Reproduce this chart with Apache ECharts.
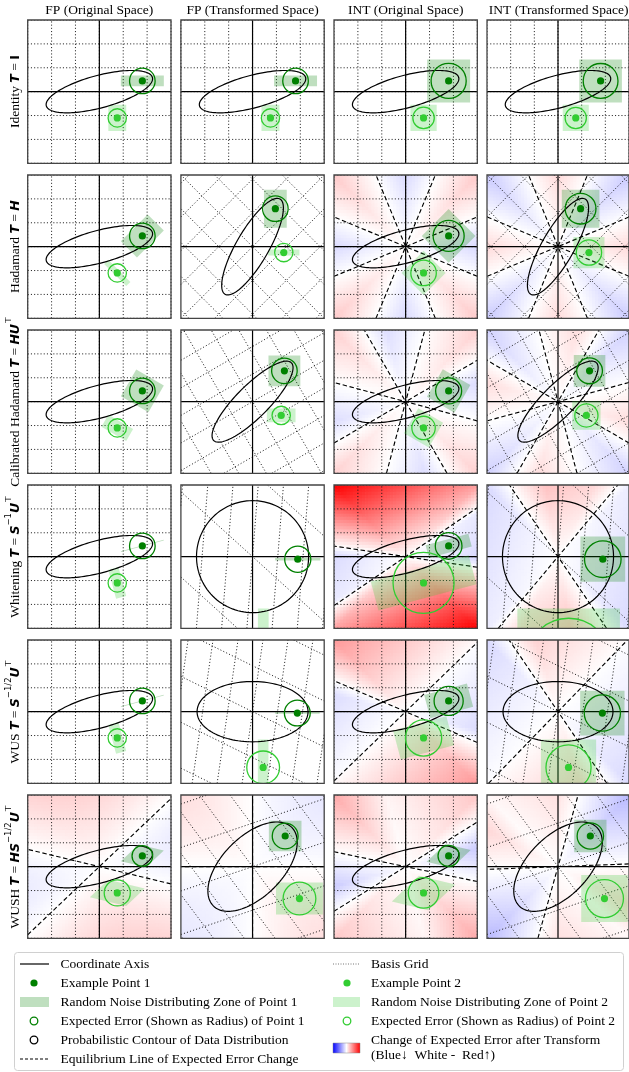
<!DOCTYPE html>
<html><head><meta charset="utf-8">
<script src="https://cdn.jsdelivr.net/npm/echarts@6/dist/echarts.min.js"></script>
<style>html,body{margin:0;padding:0;background:#fff}#c{width:629px;height:1072px}</style>
</head><body><div id="c"></div><script>
// ================= values =================
const columnTitles = ['FP (Original Space)', 'FP (Transformed Space)', 'INT (Original Space)', 'INT (Transformed Space)'];
const columnKinds = ['FP', 'FP', 'INT', 'INT'];
const columnSpaces = ['original', 'transformed', 'original', 'transformed'];
const rowMethods = ['Identity ', 'Hadamard ', 'Calibrated Hadamard ', 'Whitening ', 'WUS ', 'WUSH '];
const rowFormulas = [
  '{m|T}{t| = }{b|I}',
  '{m|T}{t| = }{m|H}',
  '{m|T}{t| = }{m|HU}{s|⊤}',
  '{m|T}{t| = }{m|S}{s|−1}{m|U}{s|⊤}',
  '{m|T}{t| = }{m|S}{s|−1/2}{m|U}{s|⊤}',
  '{m|T}{t| = }{m|HS}{s|−1/2}{m|U}{s|⊤}'
];
// transform recipe of each row (factors multiplied left to right, applied right to left)
const rowRecipes = [[], ['H'], ['H', 'Ut'], ['Sinv', 'Ut'], ['Sinvhalf', 'Ut'], ['H', 'Sinvhalf', 'Ut']];
const axisRange = [-3, 3];            // every panel shows [-3,3] x [-3,3]
const latticeSpan = 9;                // basis grid lines k = -9..9 (clipped to the panel)
const contourAxes = [2.3, 0.68];      // semi-axes of the probabilistic contour
const contourAngleDeg = 15;           // orientation of the contour (rotation U)
const varianceScales = [0.98, 0.29];  // diagonal of S
const hadamardAngleDeg = 45;          // 2x2 Hadamard shown as a 45 degree rotation
const point1 = [1.8, 0.45];           // example point 1 (original space)
const point2 = [0.75, -1.1];          // example point 2 (original space)
const colorLimit = 2.5;               // colour scale of the error change (blue -2.5 .. red +2.5)
const heatCells = 46;                 // resolution of the background colour field
const legendLeft = ['Coordinate Axis', 'Example Point 1', 'Random Noise Distributing Zone of Point 1',
  'Expected Error (Shown as Radius) of Point 1', 'Probabilistic Contour of Data Distribution', 'Equilibrium Line of Expected Error Change'];
const legendRight = ['Basis Grid', 'Example Point 2', 'Random Noise Distributing Zone of Point 2',
  'Expected Error (Shown as Radius) of Point 2', 'Change of Expected Error after Transform', '(Blue\u2193  White -  Red\u2191)'];

// ================= layout =================
const panelLeft = [27.7, 180.9, 334, 487];
const panelTop = [20, 175, 330, 485, 640, 795];
const panelSize = 143.3;
const C1 = '#008000', C2 = '#32cd32';
const Z1 = 'rgba(0,128,0,0.25)', Z2 = 'rgba(50,205,50,0.25)';
const SERIF = '"Liberation Serif","Times New Roman",serif';

// ================= linear algebra helpers =================
const rad = d => d * Math.PI / 180;
const rot = a => [[Math.cos(a), -Math.sin(a)], [Math.sin(a), Math.cos(a)]];
const mul = (A, B) => [[A[0][0]*B[0][0]+A[0][1]*B[1][0], A[0][0]*B[0][1]+A[0][1]*B[1][1]],
                       [A[1][0]*B[0][0]+A[1][1]*B[1][0], A[1][0]*B[0][1]+A[1][1]*B[1][1]]];
const app = (A, v) => [A[0][0]*v[0]+A[0][1]*v[1], A[1][0]*v[0]+A[1][1]*v[1]];
const inv = A => { const d = A[0][0]*A[1][1]-A[0][1]*A[1][0]; return [[A[1][1]/d, -A[0][1]/d], [-A[1][0]/d, A[0][0]/d]]; };
const factors = {
  H: rot(rad(hadamardAngleDeg)),
  Ut: rot(-rad(contourAngleDeg)),
  Sinv: [[1/varianceScales[0], 0], [0, 1/varianceScales[1]]],
  Sinvhalf: [[1/Math.sqrt(varianceScales[0]), 0], [0, 1/Math.sqrt(varianceScales[1])]]
};
function buildT(recipe) { let M = [[1,0],[0,1]]; recipe.forEach(f => { M = mul(M, factors[f]); }); return M; }
const SQ12 = Math.sqrt(12);
const lo = axisRange[0], hi = axisRange[1];

function clipLine(p, d) {
  let t0 = -1e9, t1 = 1e9;
  for (let k = 0; k < 2; k++) {
    if (Math.abs(d[k]) < 1e-12) { if (p[k] < lo - 1e-9 || p[k] > hi + 1e-9) return null; }
    else { let a = (lo - p[k]) / d[k], b = (hi - p[k]) / d[k]; if (a > b) { const q = a; a = b; b = q; } t0 = Math.max(t0, a); t1 = Math.min(t1, b); }
  }
  if (t0 >= t1) return null;
  return [[p[0]+t0*d[0], p[1]+t0*d[1]], [p[0]+t1*d[0], p[1]+t1*d[1]]];
}

// expected error (radius) of quantising x with transform T, measured in original space
function errorModel(T, kind) {
  const Ti = inv(T);
  const cn = [Math.hypot(Ti[0][0], Ti[1][0]), Math.hypot(Ti[0][1], Ti[1][1])];
  return function (x) {
    const y = app(T, x);
    if (kind === 'INT') { const m = Math.max(Math.abs(y[0]), Math.abs(y[1])); return m * Math.hypot(cn[0], cn[1]) / SQ12; }
    return Math.sqrt(y[0]*y[0]*cn[0]*cn[0] + y[1]*y[1]*cn[1]*cn[1]) / SQ12;
  };
}

// ================= build panels =================
const grids = [], xAxes = [], yAxes = [], series = [], heatIdx = [];
rowRecipes.forEach((recipe, r) => {
  const T = buildT(recipe), Ti = inv(T);
  columnTitles.forEach((_, c) => {
    const gi = grids.length;
    const kind = columnKinds[c], transformed = columnSpaces[c] === 'transformed';
    const M = transformed ? T : [[1,0],[0,1]];       // original -> display
    const Mi = inv(M);
    grids.push({ left: panelLeft[c], top: panelTop[r], width: panelSize, height: panelSize,
      show: true, borderColor: '#444', borderWidth: 1.3, backgroundColor: 'transparent', z: 20 });
    xAxes.push({ type: 'value', gridIndex: gi, min: lo, max: hi, show: false });
    yAxes.push({ type: 'value', gridIndex: gi, min: lo, max: hi, show: false });

    const errT = errorModel(T, kind), errI = errorModel([[1,0],[0,1]], kind);
    const delta = x => errT(x) - errI(x);
    // is there any change at all?
    let maxAbs = 0;
    for (let a = 0; a < 180; a += 3) maxAbs = Math.max(maxAbs, Math.abs(delta([Math.cos(rad(a)), Math.sin(rad(a))])));
    const colored = maxAbs > 1e-6;

    if (colored) {
      const cells = [], h = (hi - lo) / heatCells;
      for (let i = 0; i < heatCells; i++) for (let j = 0; j < heatCells; j++) {
        const px = lo + (i + 0.5) * h, py = lo + (j + 0.5) * h;
        const v = delta(app(Mi, [px, py]));
        cells.push([px, py, Math.max(-colorLimit, Math.min(colorLimit, v))]);
      }
      heatIdx.push(series.length);
      series.push({ type: 'custom', xAxisIndex: gi, yAxisIndex: gi, z: 1, silent: true, progressive: 0,
        data: cells,
        renderItem: (params, api) => {
          const a = api.coord([api.value(0) - h/2, api.value(1) + h/2]);
          const b = api.coord([api.value(0) + h/2, api.value(1) - h/2]);
          return { type: 'rect', shape: { x: a[0], y: a[1], width: b[0]-a[0]+0.7, height: b[1]-a[1]+0.7 },
                   style: { fill: api.visual('color') } };
        } });
    }

    const els = [];
    // basis grid: images of lattice lines x=k and y=k
    for (let k = -latticeSpan; k <= latticeSpan; k++) {
      [[[k, 0], [0, 1]], [[0, k], [1, 0]]].forEach(([p, d]) => {
        const seg = clipLine(app(M, p), app(M, d));
        if (seg) els.push({ kind: 'polyline', pts: seg, style: { stroke: '#111', lineWidth: 0.9, lineDash: [1.1, 2.1], fill: 'none' } });
      });
    }
    // equilibrium lines of expected error change
    if (colored) {
      const step = 0.25; let prev = delta([1, 0]);
      for (let a = step; a <= 180 + 1e-9; a += step) {
        const cur = delta([Math.cos(rad(a)), Math.sin(rad(a))]);
        if (prev === 0 || prev * cur < 0) {
          let l = a - step, u = a;
          for (let it = 0; it < 40; it++) { const m = (l+u)/2; const vm = delta([Math.cos(rad(m)), Math.sin(rad(m))]); const vl = delta([Math.cos(rad(l)), Math.sin(rad(l))]); if (vl * vm <= 0) u = m; else l = m; }
          const ang = rad((l+u)/2);
          const seg = clipLine([0, 0], app(M, [Math.cos(ang), Math.sin(ang)]));
          if (seg) els.push({ kind: 'polyline', pts: seg, style: { stroke: '#000', lineWidth: 1.15, lineDash: [4.5, 2.6], fill: 'none' } });
        }
        prev = cur;
      }
    }
    // coordinate axes
    els.push({ kind: 'polyline', pts: [[lo, 0], [hi, 0]], style: { stroke: '#000', lineWidth: 1.2, fill: 'none' } });
    els.push({ kind: 'polyline', pts: [[0, lo], [0, hi]], style: { stroke: '#000', lineWidth: 1.2, fill: 'none' } });
    // noise zones + expected error for both points
    const pts = [point1, point2], zc = [Z1, Z2], cc = [C1, C2];
    const Tcn = [Math.hypot(Ti[0][0], Ti[1][0]), Math.hypot(Ti[0][1], Ti[1][1])];
    const info = pts.map(p => {
      const y = app(T, p);
      const s = kind === 'INT' ? [Math.max(Math.abs(y[0]), Math.abs(y[1])), Math.max(Math.abs(y[0]), Math.abs(y[1]))] : [Math.abs(y[0]), Math.abs(y[1])];
      const corners = [[-1,-1],[1,-1],[1,1],[-1,1]].map(([a, b]) => [y[0] + a*s[0]/2, y[1] + b*s[1]/2]);
      const disp = corners.map(q => transformed ? q : app(Ti, q));
      const radius = transformed ? Math.hypot(s[0], s[1]) / SQ12 : Math.hypot(s[0]*Tcn[0], s[1]*Tcn[1]) / SQ12;
      return { center: app(M, p), zone: disp, radius };
    });
    info.forEach((q, i) => els.push({ kind: 'polygon', pts: q.zone, style: { fill: zc[i], stroke: 'none' } }));
    // probabilistic contour
    const ell = [], E = rot(rad(contourAngleDeg));
    for (let t = 0; t <= 360; t += 3) ell.push(app(M, app(E, [contourAxes[0]*Math.cos(rad(t)), contourAxes[1]*Math.sin(rad(t))])));
    els.push({ kind: 'polyline', pts: ell, style: { stroke: '#000', lineWidth: 1.2, fill: 'none' } });
    info.forEach((q, i) => els.push({ kind: 'circle', c: q.center, r: q.radius, style: { stroke: cc[i], lineWidth: 1.3, fill: 'none' } }));
    info.forEach((q, i) => els.push({ kind: 'dot', c: q.center, px: 3.6, style: { fill: cc[i], stroke: 'none' } }));

    series.push({ type: 'custom', xAxisIndex: gi, yAxisIndex: gi, z: 3, clip: true, silent: true,
      data: els.map(() => [0, 0]),
      renderItem: (params, api) => {
        const e = els[params.dataIndex];
        if (e.kind === 'polyline') return { type: 'polyline', shape: { points: e.pts.map(p => api.coord(p)) }, style: e.style };
        if (e.kind === 'polygon') return { type: 'polygon', shape: { points: e.pts.map(p => api.coord(p)) }, style: e.style };
        const cpx = api.coord(e.c);
        const rr = e.kind === 'circle' ? api.size([e.r, 0])[0] : e.px;
        return { type: 'circle', shape: { cx: cpx[0], cy: cpx[1], r: rr }, style: e.style };
      } });
  });
});

// ================= text and legend graphics =================
const graphics = [];
columnTitles.forEach((t, c) => graphics.push({ type: 'text', x: panelLeft[c] + panelSize/2, y: 10, z: 50,
  style: { text: t, fontFamily: SERIF, fontSize: 13.5, fill: '#000', align: 'center', verticalAlign: 'middle' } }));
const rich = {
  t: { fontFamily: SERIF, fontSize: 13.5, fill: '#000', lineHeight: 18, verticalAlign: 'bottom' },
  m: { fontFamily: '"DejaVu Sans",sans-serif', fontSize: 12.5, fontWeight: 'bold', fontStyle: 'italic', fill: '#000', lineHeight: 18, verticalAlign: 'bottom' },
  b: { fontFamily: '"DejaVu Sans",sans-serif', fontSize: 12.5, fontWeight: 'bold', fill: '#000', lineHeight: 18, verticalAlign: 'bottom' },
  s: { fontFamily: '"DejaVu Sans",sans-serif', fontSize: 8.5, fill: '#000', lineHeight: 18, verticalAlign: 'top' }
};
rowMethods.forEach((m, r) => graphics.push({ type: 'text', x: 13, y: panelTop[r] + panelSize/2, rotation: Math.PI/2, z: 50,
  style: { text: '{t|' + m + '}' + rowFormulas[r], rich, align: 'center', verticalAlign: 'middle' } }));

// legend box
graphics.push({ type: 'rect', shape: { x: 14.5, y: 952.5, width: 609, height: 118, r: 3 }, z: 40,
  style: { fill: '#fff', stroke: '#d0d0d0', lineWidth: 1 } });
const rowsY = [964, 983, 1002, 1021, 1040, 1059];
const lx = [20, 49, 34, 60.5], rx = [333, 360, 347, 371];
function legText(x, y, t) { return { type: 'text', x, y, z: 45, style: { text: t, fontFamily: SERIF, fontSize: 13.5, fill: '#000', align: 'left', verticalAlign: 'middle' } }; }
legendLeft.forEach((t, i) => graphics.push(legText(lx[3], rowsY[i], t)));
legendRight.forEach((t, i) => graphics.push(legText(rx[3], i === 5 ? 1055 : rowsY[i], t)));
graphics.push({ type: 'line', z: 45, shape: { x1: lx[0], y1: rowsY[0], x2: lx[1], y2: rowsY[0] }, style: { stroke: '#000', lineWidth: 1.2 } });
graphics.push({ type: 'circle', z: 45, shape: { cx: lx[2], cy: rowsY[1], r: 3.6 }, style: { fill: C1 } });
graphics.push({ type: 'rect', z: 45, shape: { x: lx[0], y: rowsY[2] - 5, width: lx[1] - lx[0], height: 10 }, style: { fill: Z1 } });
graphics.push({ type: 'circle', z: 45, shape: { cx: lx[2], cy: rowsY[3], r: 3.8 }, style: { fill: 'none', stroke: C1, lineWidth: 1.3 } });
graphics.push({ type: 'circle', z: 45, shape: { cx: lx[2], cy: rowsY[4], r: 3.8 }, style: { fill: 'none', stroke: '#000', lineWidth: 1.3 } });
graphics.push({ type: 'line', z: 45, shape: { x1: lx[0], y1: rowsY[5], x2: lx[1], y2: rowsY[5] }, style: { stroke: '#000', lineWidth: 1.1, lineDash: [3, 2] } });
graphics.push({ type: 'line', z: 45, shape: { x1: rx[0], y1: rowsY[0], x2: rx[1], y2: rowsY[0] }, style: { stroke: '#666', lineWidth: 0.9, lineDash: [1, 1.5] } });
graphics.push({ type: 'circle', z: 45, shape: { cx: rx[2], cy: rowsY[1], r: 3.6 }, style: { fill: C2 } });
graphics.push({ type: 'rect', z: 45, shape: { x: rx[0], y: rowsY[2] - 5, width: rx[1] - rx[0], height: 10 }, style: { fill: Z2 } });
graphics.push({ type: 'circle', z: 45, shape: { cx: rx[2], cy: rowsY[3], r: 3.8 }, style: { fill: 'none', stroke: C2, lineWidth: 1.3 } });
graphics.push({ type: 'rect', z: 45, shape: { x: rx[0], y: 1043, width: rx[1] - rx[0], height: 10 },
  style: { fill: new echarts.graphic.LinearGradient(0, 0, 1, 0, [{ offset: 0, color: '#0000ff' }, { offset: 0.5, color: '#ffffff' }, { offset: 1, color: '#ff0000' }]), stroke: '#888', lineWidth: 0.5 } });

const chart = echarts.init(document.getElementById('c'), null, { renderer: 'canvas' });
chart.setOption({
  animation: false,
  grid: grids, xAxis: xAxes, yAxis: yAxes, series,
  visualMap: [{ type: 'continuous', show: false, min: -colorLimit, max: colorLimit, dimension: 2, seriesIndex: heatIdx,
    inRange: { color: ['#0000ff', '#ffffff', '#ff0000'] } }],
  graphic: graphics
});
</script></body></html>
